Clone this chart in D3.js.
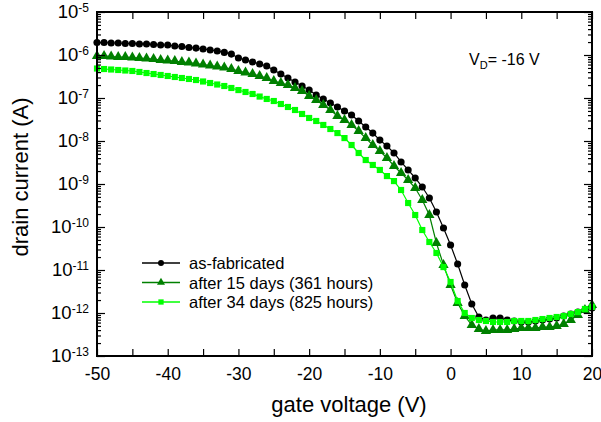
<!DOCTYPE html>
<html>
<head>
<meta charset="utf-8">
<script src="https://cdn.jsdelivr.net/npm/d3@7"></script>
<style>
  body { margin: 0; background: #fff; }
  svg { font-family: "Liberation Sans", Arial, sans-serif; }
</style>
</head>
<body>
<svg id="chart" width="601" height="422"></svg>
<script>
// gate voltage, 1 V steps
var gateVoltage = d3.range(-50, 21, 1);

var asFabricated = [
  1.95e-6, 1.95e-6, 1.9e-6, 1.9e-6, 1.85e-6, 1.85e-6, 1.8e-6, 1.8e-6, 1.75e-6, 1.71e-6,
  1.71e-6, 1.62e-6, 1.58e-6, 1.49e-6, 1.45e-6, 1.38e-6, 1.31e-6, 1.24e-6, 1.15e-6, 1.05e-6,
  8.5e-7, 7.65e-7, 6.87e-7, 6.18e-7, 5.55e-7, 4.48e-7, 3.61e-7, 2.92e-7, 2.36e-7, 1.9e-7,
  1.53e-7, 1.17e-7, 9.5e-8, 7.65e-8, 6.18e-8, 4.99e-8, 4.03e-8, 2.92e-8, 2.12e-8, 1.53e-8,
  1.05e-8, 7.65e-9, 5.26e-9, 3.25e-9, 2.12e-9, 1.38e-9, 8.5e-10, 4.72e-10, 2.23e-10, 9.5e-11,
  3.81e-11, 1.38e-11, 4.48e-12, 1.62e-12, 8.07e-13, 6.87e-13, 7.65e-13, 7.65e-13, 6.87e-13, 6.52e-13,
  6.18e-13, 6.18e-13, 6.52e-13, 6.87e-13, 7.24e-13, 7.65e-13, 8.5e-13, 9.5e-13, 1.05e-12, 1.17e-12,
  1.31e-12
];

var after15days = [
  9.5e-7, 9.5e-7, 9.23e-7, 8.98e-7, 8.98e-7, 8.75e-7, 8.51e-7, 8.29e-7, 8.07e-7, 7.65e-7,
  7.45e-7, 7.25e-7, 6.87e-7, 6.69e-7, 6.34e-7, 6.01e-7, 5.7e-7, 5.4e-7, 5.12e-7, 4.72e-7,
  4.25e-7, 3.92e-7, 3.61e-7, 3.25e-7, 2.92e-7, 2.49e-7, 2.23e-7, 2.0e-7, 1.71e-7, 1.46e-7,
  1.11e-7, 8.98e-8, 6.87e-8, 5.26e-8, 3.81e-8, 3.08e-8, 2.36e-8, 1.71e-8, 1.17e-8, 8.07e-9,
  5.85e-9, 4.03e-9, 2.62e-9, 1.8e-9, 1.24e-9, 8.07e-10, 4.25e-10, 1.9e-10, 4.25e-11, 1.31e-11,
  4.48e-12, 1.71e-12, 8.51e-13, 5.26e-13, 4.25e-13, 3.81e-13, 4.03e-13, 4.03e-13, 4.03e-13, 4.25e-13,
  4.48e-13, 4.48e-13, 4.48e-13, 4.72e-13, 4.72e-13, 4.99e-13, 5.55e-13, 6.87e-13, 8.98e-13, 1.17e-12,
  1.53e-12
];

var after34days = [
  4.85e-7, 4.72e-7, 4.6e-7, 4.48e-7, 4.36e-7, 4.25e-7, 4.03e-7, 3.81e-7, 3.61e-7, 3.43e-7,
  3.25e-7, 3.08e-7, 2.92e-7, 2.77e-7, 2.62e-7, 2.42e-7, 2.23e-7, 2.06e-7, 1.9e-7, 1.71e-7,
  1.53e-7, 1.38e-7, 1.24e-7, 1.08e-7, 9.5e-8, 8.51e-8, 7.25e-8, 6.18e-8, 5.26e-8, 4.25e-8,
  3.43e-8, 2.92e-8, 2.36e-8, 1.9e-8, 1.53e-8, 1.17e-8, 8.07e-9, 5.26e-9, 3.61e-9, 2.77e-9,
  2.12e-9, 1.53e-9, 1.17e-9, 7.25e-10, 3.61e-10, 1.9e-10, 8.51e-11, 4.48e-11, 2.49e-11, 1.17e-11,
  5.26e-12, 1.9e-12, 1.0e-12, 7.65e-13, 6.87e-13, 6.52e-13, 6.18e-13, 6.18e-13, 6.18e-13, 6.52e-13,
  6.52e-13, 6.52e-13, 6.87e-13, 7.24e-13, 7.65e-13, 8.07e-13, 8.51e-13, 9.5e-13, 1.05e-12, 1.24e-12,
  1.38e-12
];

var seriesNames = ["as-fabricated", "after 15 days (361 hours)", "after 34 days (825 hours)"];
var seriesColors = ["#000000", "#008000", "#00ff00"];
var seriesSymbols = [d3.symbolCircle, d3.symbolTriangle, d3.symbolSquare];
var xTicks = d3.range(-50, 21, 5);
var yDecades = [-13, -12, -11, -10, -9, -8, -7, -6, -5];

var svg = d3.select("#chart");
var plotLeft = 97, plotRight = 592, plotTop = 12, plotBottom = 356;

var x = d3.scaleLinear().domain([-50, 20]).range([plotLeft, plotRight]);
var y = d3.scaleLog().domain([1e-13, 1e-5]).range([plotBottom, plotTop]);

var minorVals = [];
yDecades.slice(0, -1).forEach(function (e) {
  for (var k = 2; k <= 9; k++) minorVals.push(k * Math.pow(10, e));
});
var majorVals = yDecades.map(function (e) { return Math.pow(10, e); });

// series
var allSeries = [asFabricated, after15days, after34days];
var line = d3.line()
  .x(function (d) { return x(d.v); })
  .y(function (d) { return y(d.i); });
var symbolSizes = [40, 46, 38];

allSeries.forEach(function (vals, s) {
  var pts = gateVoltage.map(function (v, k) { return { v: v, i: vals[k] }; });
  var g = svg.append("g");
  g.append("path")
    .attr("d", line(pts))
    .attr("fill", "none")
    .attr("stroke", seriesColors[s])
    .attr("stroke-width", 1.2);
  g.selectAll("path.pt")
    .data(pts)
    .enter().append("path")
    .attr("class", "pt")
    .attr("d", d3.symbol().type(seriesSymbols[s]).size(symbolSizes[s]))
    .attr("transform", function (d) { return "translate(" + x(d.v) + "," + y(d.i) + ")"; })
    .attr("fill", seriesColors[s]);
});

// axes with inward ticks
function styleAxis(g) {
  g.select(".domain").remove();
  g.selectAll(".tick line").attr("stroke", "#000").attr("stroke-width", 1.2);
}

svg.append("g")
  .attr("transform", "translate(0," + plotBottom + ")")
  .call(d3.axisBottom(x).tickValues(xTicks).tickSize(-7).tickPadding(12)
    .tickFormat(function (d) { return d % 10 === 0 ? d : ""; }))
  .call(styleAxis)
  .selectAll("text")
  .attr("font-size", 17.5)
  .attr("font-family", "Liberation Sans, Arial, sans-serif")
  .attr("fill", "#000");

svg.append("g")
  .attr("transform", "translate(0," + plotTop + ")")
  .call(d3.axisTop(x).tickValues(xTicks).tickSize(-7).tickFormat(""))
  .call(styleAxis);

svg.append("g")
  .attr("transform", "translate(" + plotLeft + ",0)")
  .call(d3.axisLeft(y).tickValues(majorVals).tickSize(-8).tickFormat(""))
  .call(styleAxis);
svg.append("g")
  .attr("transform", "translate(" + plotLeft + ",0)")
  .call(d3.axisLeft(y).tickValues(minorVals).tickSize(-4).tickFormat(""))
  .call(styleAxis);
svg.append("g")
  .attr("transform", "translate(" + plotRight + ",0)")
  .call(d3.axisRight(y).tickValues(majorVals).tickSize(-8).tickFormat(""))
  .call(styleAxis);
svg.append("g")
  .attr("transform", "translate(" + plotRight + ",0)")
  .call(d3.axisRight(y).tickValues(minorVals).tickSize(-4).tickFormat(""))
  .call(styleAxis);

// frame
svg.append("rect")
  .attr("x", plotLeft).attr("y", plotTop)
  .attr("width", plotRight - plotLeft).attr("height", plotBottom - plotTop)
  .attr("fill", "none").attr("stroke", "#000").attr("stroke-width", 2);

// y tick labels 10^n
var ylab = svg.append("g").selectAll("text")
  .data(yDecades)
  .enter().append("text")
  .attr("x", 89)
  .attr("y", function (e) { return y(Math.pow(10, e)); })
  .attr("dy", "0.35em")
  .attr("text-anchor", "end")
  .attr("font-size", 18.5)
  .attr("fill", "#000");
ylab.append("tspan").text("10");
ylab.append("tspan")
  .attr("dy", "-0.5em")
  .attr("font-size", 12)
  .text(function (e) { return "-" + Math.abs(e); });

// axis titles
svg.append("text")
  .attr("x", 349).attr("y", 412)
  .attr("text-anchor", "middle")
  .attr("font-size", 22)
  .text("gate voltage (V)");

svg.append("text")
  .attr("transform", "translate(28,177) rotate(-90)")
  .attr("text-anchor", "middle")
  .attr("font-size", 22)
  .text("drain current (A)");

// V_D annotation
var vd = svg.append("text")
  .attr("x", 469).attr("y", 65)
  .attr("font-size", 16);
vd.append("tspan").text("V");
vd.append("tspan").attr("dy", 4).attr("font-size", 11).text("D");
vd.append("tspan").attr("dy", -4).text("= -16 V");

// legend
var legend = svg.append("g");
seriesNames.forEach(function (name, s) {
  var ly = 263 + s * 19.5;
  legend.append("line")
    .attr("x1", 142).attr("x2", 180).attr("y1", ly).attr("y2", ly)
    .attr("stroke", seriesColors[s]).attr("stroke-width", 1.5);
  legend.append("path")
    .attr("d", d3.symbol().type(seriesSymbols[s]).size(28)())
    .attr("transform", "translate(161," + ly + ")")
    .attr("fill", seriesColors[s]);
  legend.append("text")
    .attr("x", 189).attr("y", ly + 6)
    .attr("font-size", 16.5)
    .text(name);
});
</script>
</body>
</html>
